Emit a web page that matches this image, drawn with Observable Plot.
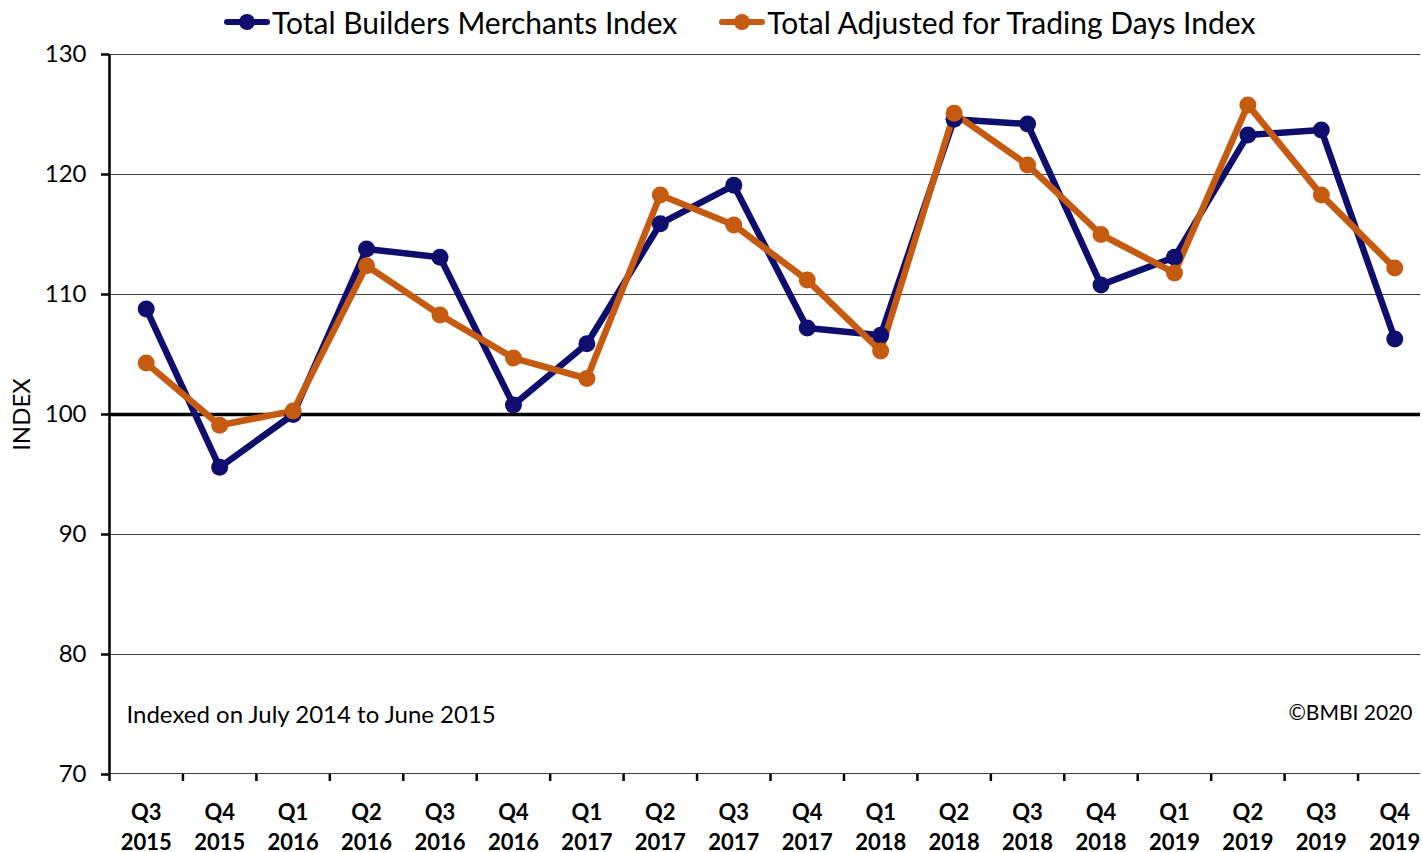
<!DOCTYPE html>
<html>
<head>
<meta charset="utf-8">
<script src="https://cdn.jsdelivr.net/npm/d3@7"></script>
<script src="https://cdn.jsdelivr.net/npm/@observablehq/plot@0.6"></script>
<style>
  html, body { margin: 0; padding: 0; background: #fff; }
  body { width: 1422px; height: 852px; overflow: hidden; font-family: Lato, "Open Sans", sans-serif; }
  #legend { height: 34px; display: flex; align-items: flex-start; padding-left: 224px; padding-top: 7px; box-sizing: border-box; font-size: 30px; line-height: 30px; color: #000; }
  .item { display: flex; align-items: center; margin-right: 42px; height: 30px; }
  .item svg { margin-right: 2px; }
</style>
</head>
<body>
<div id="legend"></div>
<div id="chart"></div>
<script>
const quarters = ["Q3","Q4","Q1","Q2","Q3","Q4","Q1","Q2","Q3","Q4","Q1","Q2","Q3","Q4","Q1","Q2","Q3","Q4"];
const years = ["2015","2015","2016","2016","2016","2016","2017","2017","2017","2017","2018","2018","2018","2018","2019","2019","2019","2019"];
const totalIndex = [108.8, 95.6, 100.0, 113.8, 113.1, 100.8, 105.9, 115.9, 119.1, 107.2, 106.6, 124.6, 124.2, 110.8, 113.1, 123.3, 123.7, 106.3];
const adjustedIndex = [104.3, 99.1, 100.3, 112.4, 108.3, 104.7, 103.0, 118.3, 115.8, 111.2, 105.3, 125.1, 120.8, 115.0, 111.8, 125.8, 118.3, 112.2];
const seriesNames = ["Total Builders Merchants Index", "Total Adjusted for Trading Days Index"];
const seriesColors = ["#0e0e6e", "#c55a11"];
const yTicks = [70, 80, 90, 100, 110, 120, 130];
const noteLeft = "Indexed on July 2014 to June 2015";
const noteRight = "\u00a9BMBI 2020";

const rows = [];
quarters.forEach((q, i) => {
  rows.push({i, series: seriesNames[0], value: totalIndex[i]});
});
quarters.forEach((q, i) => {
  rows.push({i, series: seriesNames[1], value: adjustedIndex[i]});
});
const n = quarters.length;
const boundaries = d3.range(n + 1).map(k => k - 0.5);

// legend
const legend = d3.select("#legend");
seriesNames.forEach((name, k) => {
  const it = legend.append("div").attr("class", "item");
  const s = it.append("svg").attr("width", 46).attr("height", 20);
  s.append("line").attr("x1", 3).attr("x2", 43).attr("y1", 10).attr("y2", 10)
    .attr("stroke", seriesColors[k]).attr("stroke-width", 6).attr("stroke-linecap", "round");
  s.append("circle").attr("cx", 23).attr("cy", 10).attr("r", 8).attr("fill", seriesColors[k]);
  it.append("span").text(name);
});

const font = "Lato, 'Open Sans', sans-serif";
const chart = Plot.plot({
  width: 1422,
  height: 818,
  marginTop: 20,
  marginLeft: 109,
  marginRight: 2,
  marginBottom: 78,
  style: { fontFamily: font, color: "#000", background: "#fff", overflow: "visible" },
  x: { type: "linear", domain: [-0.5, n - 0.5], range: [109, 1431] },
  y: { domain: [70, 130] },
  color: { domain: seriesNames, range: seriesColors },
  marks: [
    Plot.ruleY(yTicks.filter(v => v !== 70 && v !== 100), { x1: -0.5, x2: n - 0.5, stroke: "#000", strokeWidth: 1, strokeOpacity: 0.75, clip: "frame" }),
    Plot.ruleY([100], { x1: -0.5, x2: n - 0.5, stroke: "#000", strokeWidth: 3.5, clip: "frame" }),
    Plot.axisY({ ticks: yTicks, tickSize: 8, tickPadding: 15, fontSize: 24, tickFormat: d3.format("d"), label: "INDEX", labelAnchor: "center", labelArrow: "none", labelOffset: 97, strokeWidth: 2.5 }),
    Plot.axisX({ ticks: boundaries, tickSize: 7, tickFormat: () => "", strokeWidth: 2.5, label: null }),
    Plot.axisX({ ticks: d3.range(n), tickSize: 0, tickPadding: 24, fontSize: 22, fontWeight: "bold", lineHeight: 1.36, tickFormat: i => quarters[i] + "\n" + years[i], label: null }),
    Plot.ruleX([-0.5], { stroke: "#000", strokeWidth: 2.5 }),
    Plot.ruleY([70], { x1: -0.5, x2: n - 0.5, stroke: "#000", strokeWidth: 2.5, clip: "frame" }),
    Plot.line(rows, { x: "i", y: "value", stroke: "series", z: "series", strokeWidth: 6.5, strokeLinejoin: "round" }),
    Plot.dot(rows, { x: "i", y: "value", fill: "series", r: 8.5 }),
    Plot.text([noteLeft], { frameAnchor: "bottom-left", dx: 17, dy: -52, textAnchor: "start", fontSize: 24, text: d => d }),
    Plot.text([noteRight], { frameAnchor: "bottom-right", dx: -8, dy: -55, textAnchor: "end", fontSize: 21, text: d => d })
  ]
});
document.getElementById("chart").appendChild(chart);
</script>
</body>
</html>
